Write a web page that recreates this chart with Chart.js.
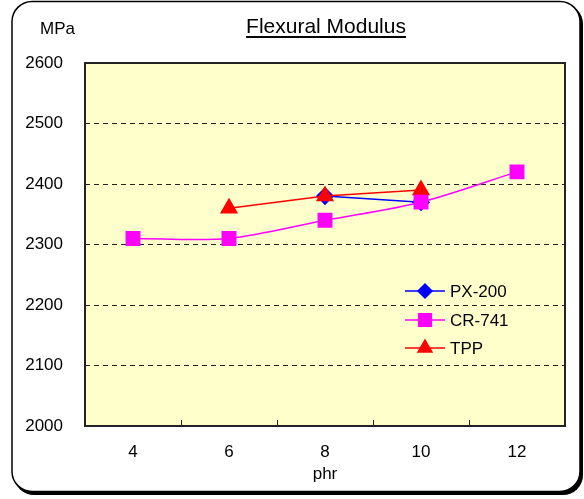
<!DOCTYPE html>
<html>
<head>
<meta charset="utf-8">
<script src="https://cdn.jsdelivr.net/npm/chart.js@4/dist/chart.umd.min.js"></script>
<style>
  body { margin: 0; background: #fff; }
  canvas { display: block; }
</style>
</head>
<body>
<canvas id="modulusChart" width="584" height="499"></canvas>
<script>
// data
const phrLabels = ['4', '6', '8', '10', '12'];
const px200 = [null, null, 2380, 2370, null];
const cr741 = [2310, 2310, 2340, 2370, 2420];
const tpp = [null, 2360, 2380, 2390, null];
const yTicks = [2000, 2100, 2200, 2300, 2400, 2500, 2600];

const FONT = '"Liberation Sans", Arial, sans-serif';

const legendItems = [
  { label: 'PX-200', color: '#0000FF', style: 'rectRot', r: 7 },
  { label: 'CR-741', color: '#FF00FF', style: 'rect', r: 9 },
  { label: 'TPP', color: '#FF0000', style: 'triangle', r: 8 }
];

// frame, plot background, title, legend
const decorPlugin = {
  id: 'decor',
  beforeDraw(chart) {
    const ctx = chart.ctx;
    const a = chart.chartArea;
    ctx.save();
    ctx.fillStyle = '#fff';
    ctx.fillRect(0, 0, chart.width, chart.height);

    // outer rounded frame with shadow
    ctx.fillStyle = '#000';
    ctx.beginPath();
    ctx.roundRect(14, 4, 569, 491, 20);
    ctx.fill();
    ctx.fillStyle = '#fff';
    ctx.strokeStyle = '#000';
    ctx.lineWidth = 1.5;
    ctx.beginPath();
    ctx.roundRect(12, 1.5, 568, 490, 20);
    ctx.fill();
    ctx.stroke();

    // plot area
    ctx.fillStyle = '#FFFFCC';
    ctx.fillRect(a.left, a.top, a.right - a.left, a.bottom - a.top);
    ctx.restore();
  },
  beforeDatasetsDraw(chart) {
    const ctx = chart.ctx;
    const a = chart.chartArea;
    const x = chart.scales.x;
    ctx.save();
    ctx.strokeStyle = '#222';
    ctx.lineWidth = 2;
    ctx.strokeRect(a.left, a.top, a.right - a.left, a.bottom - a.top);
    // inward tick marks between categories
    ctx.lineWidth = 1;
    for (let i = 0; i < phrLabels.length - 1; i++) {
      const px = Math.round((x.getPixelForValue(i) + x.getPixelForValue(i + 1)) / 2) + 0.5;
      ctx.beginPath();
      ctx.moveTo(px, a.bottom);
      ctx.lineTo(px, a.bottom - 6);
      ctx.stroke();
    }
    ctx.restore();
  },
  afterDraw(chart) {
    const ctx = chart.ctx;
    ctx.save();
    ctx.fillStyle = '#000';
    ctx.textBaseline = 'alphabetic';

    // title with underline
    ctx.font = '21px ' + FONT;
    ctx.textAlign = 'center';
    ctx.fillText('Flexural Modulus', 326, 33);
    const w = ctx.measureText('Flexural Modulus').width;
    ctx.fillRect(326 - w / 2, 36, w, 2);

    // unit
    ctx.font = '17px ' + FONT;
    ctx.textAlign = 'left';
    ctx.fillText('MPa', 40, 34);

    // legend
    const rows = [291, 320, 348];
    legendItems.forEach((item, i) => {
      const y = rows[i];
      ctx.strokeStyle = item.color;
      ctx.lineWidth = 1.5;
      ctx.beginPath();
      ctx.moveTo(405, y);
      ctx.lineTo(445, y);
      ctx.stroke();
      ctx.fillStyle = item.color;
      ctx.strokeStyle = item.color;
      Chart.helpers.drawPoint(ctx, { pointStyle: item.style, radius: item.r, rotation: 0, borderWidth: 1 }, 425, y);
      ctx.fillStyle = '#000';
      ctx.font = '17px ' + FONT;
      ctx.textBaseline = 'middle';
      ctx.fillText(item.label, 450, y + 1);
    });
    ctx.restore();
  }
};

new Chart(document.getElementById('modulusChart'), {
  type: 'line',
  data: {
    labels: phrLabels,
    datasets: [
      {
        label: 'PX-200',
        data: px200,
        borderColor: '#0000FF',
        backgroundColor: '#0000FF',
        borderWidth: 1.5,
        pointStyle: 'rectRot',
        pointRadius: 8,
        tension: 0,
        order: 2
      },
      {
        label: 'CR-741',
        data: cr741,
        borderColor: '#FF00FF',
        backgroundColor: '#FF00FF',
        borderWidth: 1.5,
        pointStyle: 'rect',
        pointRadius: 9.5,
        tension: 0.3,
        order: 0
      },
      {
        label: 'TPP',
        data: tpp,
        borderColor: '#FF0000',
        backgroundColor: '#FF0000',
        borderWidth: 1.5,
        pointStyle: 'triangle',
        pointRadius: 9,
        tension: 0,
        order: 1
      }
    ]
  },
  options: {
    responsive: false,
    animation: false,
    layout: { padding: { top: 63, right: 19, left: 0, bottom: 0 } },
    plugins: {
      legend: { display: false },
      tooltip: { enabled: false }
    },
    scales: {
      x: {
        offset: true,
        grid: { display: false, drawTicks: false },
        border: { display: false },
        ticks: {
          color: '#000',
          font: { family: FONT, size: 17 },
          padding: 16,
          maxRotation: 0
        },
        title: {
          display: true,
          text: 'phr',
          color: '#000',
          font: { family: FONT, size: 17 },
          padding: { top: 0, bottom: 14 }
        },
        afterFit(scale) { scale.height = 73; }
      },
      y: {
        min: 2000,
        max: 2600,
        afterBuildTicks(scale) { scale.ticks = yTicks.map(v => ({ value: v })); },
        grid: {
          drawTicks: false,
          tickLength: 0,
          lineWidth: 1,
          color: c => (c.tick && (c.tick.value === 2000 || c.tick.value === 2600)) ? 'rgba(0,0,0,0)' : '#222'
        },
        border: { display: false, dash: [5, 4] },
        ticks: {
          color: '#000',
          font: { family: FONT, size: 17 },
          padding: 22,
          callback: v => String(v)
        },
        afterFit(scale) { scale.width = 85; }
      }
    }
  },
  plugins: [decorPlugin]
});
</script>
</body>
</html>
